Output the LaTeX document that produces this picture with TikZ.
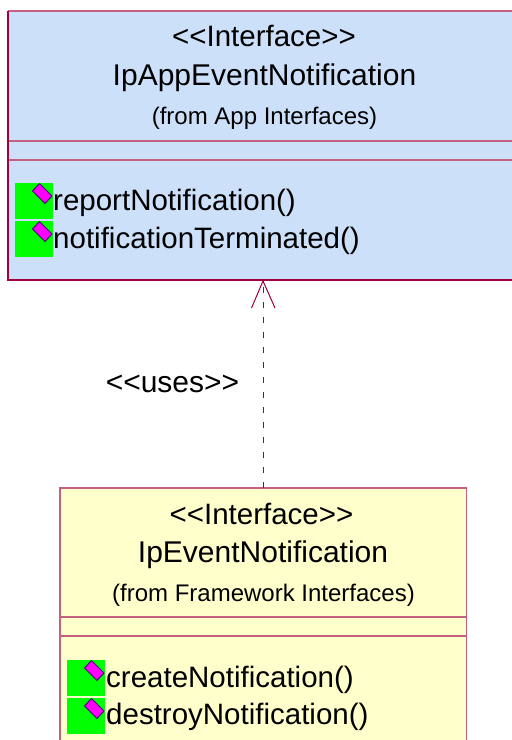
\documentclass[tikz,border=0pt]{standalone}
\usepackage{fontspec}
\setmainfont[Ligatures=NoCommon]{Liberation Sans}
\definecolor{topfill}{RGB}{204,224,250}
\definecolor{botfill}{RGB}{255,255,204}
\definecolor{edge}{RGB}{196,96,128}
\definecolor{darkedge}{RGB}{160,0,64}
\definecolor{opgreen}{RGB}{0,255,0}
\definecolor{opmag}{RGB}{255,0,255}
\definecolor{opline}{RGB}{60,20,110}
\newcommand{\ltlt}{{<}\kern0pt{<}}
\newcommand{\gtgt}{{>}\kern0pt{>}}
\tikzset{
  stereo/.style={anchor=base,inner sep=0pt,font=\fontsize{29.5}{32}\selectfont},
  cname/.style={anchor=base,inner sep=0pt,font=\fontsize{30}{33}\selectfont},
  fromtxt/.style={anchor=base,inner sep=0pt,font=\fontsize{24}{27}\selectfont},
  optxt/.style={anchor=base west,inner sep=0pt,font=\fontsize{29.5}{32}\selectfont},
  boxedge/.style={draw=edge,line width=1.6pt},
  usesarrow/.style={draw=darkedge,line width=1pt,dash pattern=on 6.5pt off 8.5pt},
}
\newcommand{\opicon}[2]{%
  \fill[opgreen] (#1,#2) rectangle ++(38,36);
  \filldraw[fill=opmag,draw=opline,line width=1pt]
    (#1+24.5,#2+0.5) -- (#1+37,#2+13) -- (#1+30,#2+20.5) -- (#1+17.5,#2+8) -- cycle;
}
\begin{document}
\begin{tikzpicture}[x=1pt,y=-1pt]
\clip (0,0) rectangle (512,740);
\fill[white] (0,0) rectangle (512,740);
% top class
\fill[topfill] (8,11) rectangle (522,280);
\draw[boxedge] (8,11) -- (522,11);
\draw[boxedge] (8,141) -- (522,141);
\draw[boxedge] (8,160) -- (522,160);
\draw[draw=darkedge,line width=2pt] (8,11) -- (8,280) -- (522,280);
\node[stereo] (s1) at (264,46.5) {\ltlt Interface\gtgt};
\node[cname] (n1) at (264.5,85) {IpAppEventNotification};
\node[fromtxt] (f1) at (264.5,124) {(from App Interfaces)};
\opicon{15}{183}
\opicon{15}{221}
\node[optxt] (o1) at (53,210) {reportNotification()};
\node[optxt] (o2) at (53,248) {notificationTerminated()};
\coordinate (topb) at (263,281);
% bottom class
\fill[botfill] (60,488) rectangle (466.5,745);
\draw[boxedge] (60,745) -- (60,488) -- (466.5,488) -- (466.5,745);
\draw[boxedge] (60,617) -- (466.5,617);
\draw[boxedge] (60,636) -- (466.5,636);
\node[stereo] (s2) at (261.5,524) {\ltlt Interface\gtgt};
\node[cname] (n2) at (263,562.5) {IpEventNotification};
\node[fromtxt] (f2) at (263.5,601.5) {(from Framework Interfaces)};
\opicon{67}{660}
\opicon{67}{698}
\node[optxt] (o3) at (106,687) {createNotification()};
\node[optxt] (o4) at (106,724) {destroyNotification()};
\coordinate (botb) at (263,488);
% dependency
\draw[usesarrow] (botb) -- (topb);
\draw[draw=darkedge,line width=1pt] (251.5,308) -- (topb) -- (275,308);
\node[anchor=base,inner sep=0pt,font=\fontsize{30}{33}\selectfont] (uses) at (172.5,392) {\ltlt uses\gtgt};
\end{tikzpicture}
\end{document}
